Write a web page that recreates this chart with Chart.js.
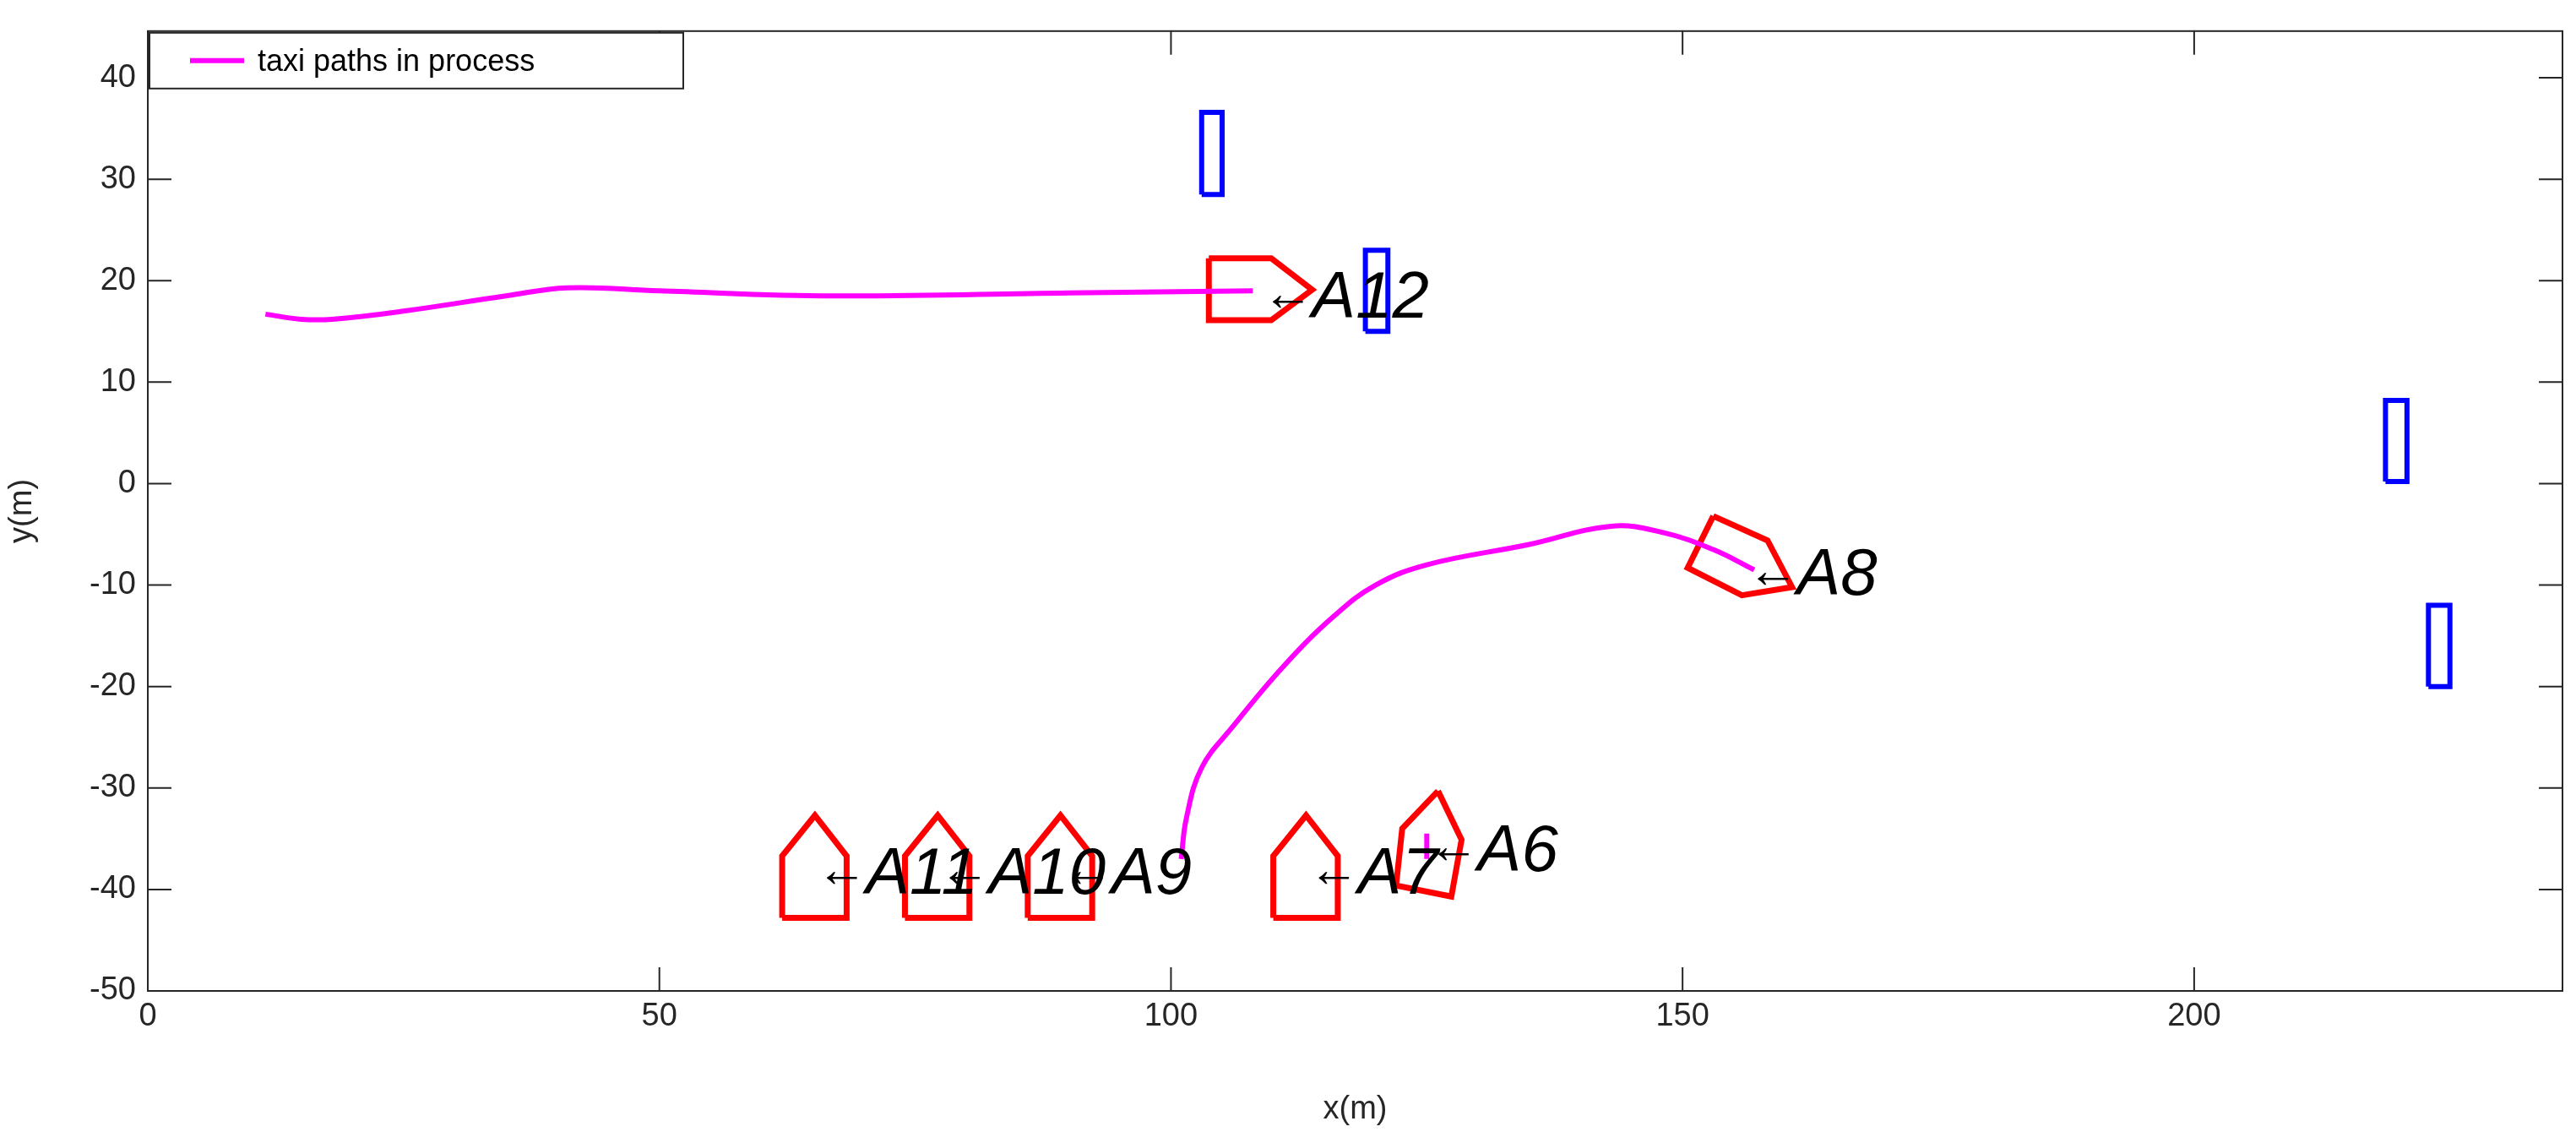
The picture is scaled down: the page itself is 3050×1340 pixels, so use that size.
<!DOCTYPE html>
<html>
<head>
<meta charset="utf-8">
<script src="https://cdn.jsdelivr.net/npm/chart.js@4"></script>
<style>
  html, body { margin: 0; padding: 0; background: #fff; }
  #wrap { width: 3050px; height: 1340px; }
</style>
</head>
<body>
<div id="wrap"><canvas id="c"></canvas></div>
<script>
// taxi paths (x, y in metres)
const pathTopX = [11.5, 15, 18, 25, 35, 41, 50, 67, 90, 108];
const pathTopY = [16.7, 16.2, 16.2, 17, 18.5, 19.3, 19, 18.5, 18.8, 19];
const pathMidX = [101, 101.5, 103, 106, 111, 116, 120, 125, 135, 143, 148, 153, 157];
const pathMidY = [-37, -33, -28, -24, -18, -13, -10, -8, -6, -4.2, -4.8, -6.5, -8.5];
const pathA6X = [125, 125];
const pathA6Y = [-37, -34.5];

// aircraft outlines (closed polygons)
const aircraft = {
  A11: [[62, -42.8], [68.3, -42.8], [68.3, -36.7], [65.2, -32.7], [62, -36.7]],
  A10: [[74, -42.8], [80.3, -42.8], [80.3, -36.7], [77.2, -32.7], [74, -36.7]],
  A9:  [[86, -42.8], [92.3, -42.8], [92.3, -36.7], [89.2, -32.7], [86, -36.7]],
  A7:  [[110, -42.8], [116.3, -42.8], [116.3, -36.7], [113.2, -32.7], [110, -36.7]],
  A6:  [[126.1, -30.3], [128.4, -35.1], [127.4, -40.7], [122, -39.6], [122.6, -34.0]],
  A12: [[103.7, 22.2], [109.8, 22.2], [113.8, 19.1], [109.8, 16.1], [103.7, 16.1]],
  A8:  [[153, -3.2], [158.3, -5.6], [160.7, -10.2], [155.8, -11.0], [150.5, -8.3]]
};

// stands (blue rectangles: x0, x1, y0, y1)
const stands = [[103, 105, 28.5, 36.6], [119, 121.2, 15, 23], [218.7, 220.8, 0.2, 8.2], [222.9, 225, -20, -12]];

// label anchors
const labelNames = ['A11', 'A10', 'A9', 'A7', 'A6', 'A8', 'A12'];
const labelX = [65.7, 77.7, 89.7, 113.8, 125.5, 156.7, 109.3];
const labelY = [-38.3, -38.3, -38.3, -38.3, -36, -8.8, 18.5];

const xy = (xs, ys) => xs.map((x, i) => ({ x, y: ys[i] }));
const closed = pts => pts.concat([pts[0]]).map(p => ({ x: p[0], y: p[1] }));

const datasets = [];
const magenta = '#ff00ff';
datasets.push({ label: 'taxi paths in process', data: xy(pathTopX, pathTopY), borderColor: magenta, borderWidth: 6, tension: 0.4 });
datasets.push({ label: 'p2', data: xy(pathMidX, pathMidY), borderColor: magenta, borderWidth: 6, tension: 0.4 });
datasets.push({ label: 'p3', data: xy(pathA6X, pathA6Y), borderColor: magenta, borderWidth: 6 });
for (const k in aircraft) {
  datasets.push({ label: k, data: closed(aircraft[k]), borderColor: '#ff0000', borderWidth: 7 });
}
stands.forEach((s, i) => {
  datasets.push({ label: 's' + i, data: closed([[s[0], s[2]], [s[1], s[2]], [s[1], s[3]], [s[0], s[3]]]), borderColor: '#0000ff', borderWidth: 6 });
});
datasets.forEach(d => { d.showLine = true; d.pointRadius = 0; d.fill = false; });

const font = '"Liberation Sans", Arial, sans-serif';

const deco = {
  id: 'deco',
  afterDraw(chart) {
    const { ctx, chartArea: a, scales } = chart;
    ctx.save();
    // frame
    ctx.strokeStyle = '#262626';
    ctx.lineWidth = 2;
    ctx.strokeRect(a.left, a.top, a.right - a.left, a.bottom - a.top);
    // inward ticks
    ctx.beginPath();
    scales.x.ticks.forEach(t => {
      const p = scales.x.getPixelForValue(t.value);
      ctx.moveTo(p, a.bottom); ctx.lineTo(p, a.bottom - 28);
      ctx.moveTo(p, a.top); ctx.lineTo(p, a.top + 28);
    });
    scales.y.ticks.forEach(t => {
      const p = scales.y.getPixelForValue(t.value);
      ctx.moveTo(a.left, p); ctx.lineTo(a.left + 28, p);
      ctx.moveTo(a.right, p); ctx.lineTo(a.right - 28, p);
    });
    ctx.stroke();
    // labels
    ctx.fillStyle = '#000';
    ctx.textBaseline = 'middle';
    labelNames.forEach((n, i) => {
      const px = scales.x.getPixelForValue(labelX[i]);
      const py = scales.y.getPixelForValue(labelY[i]);
      ctx.font = '60px ' + font;
      ctx.fillText('\u2190', px - 4, py);
      const w = ctx.measureText('\u2190').width;
      ctx.font = 'italic 78px ' + font;
      ctx.fillText(n, px + w - 6, py + 4);
    });
    // legend
    const lx = a.left + 2, ly = a.top + 2, lw = 632, lh = 66;
    ctx.fillStyle = '#fff';
    ctx.fillRect(lx, ly, lw, lh);
    ctx.strokeStyle = '#262626';
    ctx.lineWidth = 2;
    ctx.strokeRect(lx, ly, lw, lh);
    ctx.strokeStyle = magenta;
    ctx.lineWidth = 6;
    ctx.beginPath();
    ctx.moveTo(lx + 48, ly + lh / 2); ctx.lineTo(lx + 112, ly + lh / 2);
    ctx.stroke();
    ctx.fillStyle = '#000';
    ctx.font = '36px ' + font;
    ctx.fillText('taxi paths in process', lx + 128, ly + lh / 2 + 2);
    ctx.restore();
  }
};

const keepSteps = step => scale => { scale.ticks = scale.ticks.filter(t => Math.abs(t.value / step - Math.round(t.value / step)) < 1e-6); };

new Chart(document.getElementById('c'), {
  type: 'scatter',
  data: { datasets },
  plugins: [deco],
  options: {
    responsive: true,
    maintainAspectRatio: false,
    animation: false,
    layout: { padding: { top: 25, right: 16, left: 0, bottom: 0 } },
    plugins: { legend: { display: false }, tooltip: { enabled: false } },
    scales: {
      x: {
        type: 'linear', min: 0, max: 236,
        ticks: { stepSize: 50, color: '#262626', font: { size: 38, family: font }, padding: 8 },
        grid: { display: false, drawTicks: false },
        border: { display: false },
        title: { display: true, text: 'x(m)', color: '#262626', font: { size: 38, family: font } },
        afterBuildTicks: keepSteps(50),
        afterFit: s => { s.height = 167; }
      },
      y: {
        type: 'linear', min: -50, max: 44.6,
        ticks: { stepSize: 10, color: '#262626', font: { size: 38, family: font }, padding: 14 },
        grid: { display: false, drawTicks: false },
        border: { display: false },
        title: { display: true, text: 'y(m)', color: '#262626', font: { size: 38, family: font } },
        afterBuildTicks: keepSteps(10),
        afterFit: s => { s.width = 175; }
      }
    }
  }
});
</script>
</body>
</html>
